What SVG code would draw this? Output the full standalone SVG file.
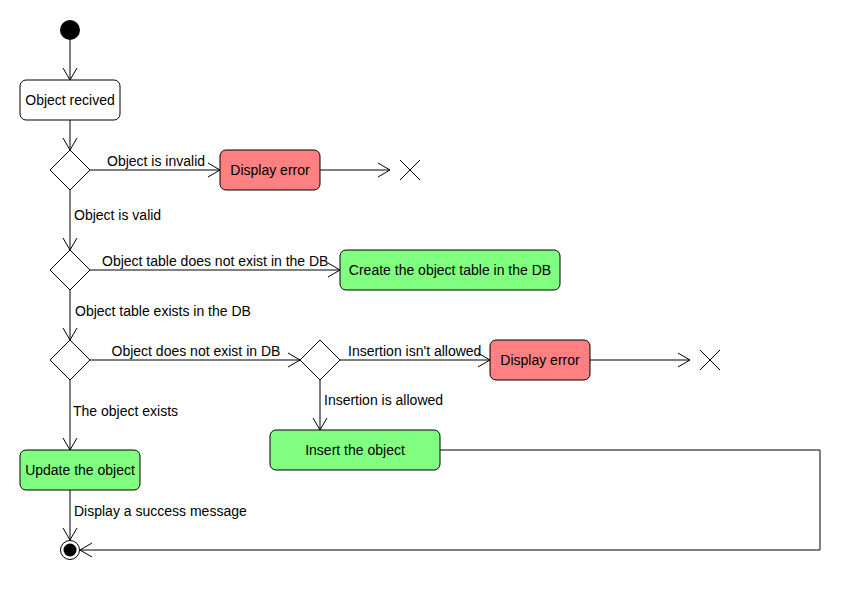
<svg xmlns="http://www.w3.org/2000/svg" width="860" height="590" viewBox="0 0 860 590">
  <style>
    .bg { fill: #ffffff; }
    .act { stroke: #000000; stroke-width: 1; }
    .plain { fill: #ffffff; }
    .err { fill: #ff8080; }
    .ok { fill: #80ff80; }
    .dec { fill: #ffffff; stroke: #000000; stroke-width: 1; }
    .flow { fill: none; stroke: #000000; stroke-width: 1; }
    .stop { fill: none; stroke: #000000; stroke-width: 1; }
    text { font-family: "Liberation Sans", Arial, sans-serif; font-size: 14px; fill: #000000; }
    .c { text-anchor: middle; }
  </style>
  <defs>
    <marker id="open" markerWidth="16" markerHeight="16" refX="0" refY="0" viewBox="-14 -8 16 16" markerUnits="userSpaceOnUse" orient="auto">
      <path d="M-12,-7 L0,0 L-12,7" fill="none" stroke="#000000" stroke-width="1"/>
    </marker>
  </defs>

  <rect class="bg" x="0" y="0" width="860" height="590"/>

  <!-- control flows -->
  <g id="flows">
    <line class="flow" x1="70" y1="40" x2="70" y2="80" marker-end="url(#open)"/>
    <line class="flow" x1="70" y1="120" x2="70" y2="150" marker-end="url(#open)"/>
    <line class="flow" x1="90" y1="170" x2="220" y2="170" marker-end="url(#open)"/>
    <line class="flow" x1="320" y1="170" x2="390" y2="170" marker-end="url(#open)"/>
    <line class="flow" x1="70" y1="190" x2="70" y2="250" marker-end="url(#open)"/>
    <line class="flow" x1="90" y1="270" x2="340" y2="270" marker-end="url(#open)"/>
    <line class="flow" x1="70" y1="290" x2="70" y2="340" marker-end="url(#open)"/>
    <line class="flow" x1="90" y1="360" x2="300" y2="360" marker-end="url(#open)"/>
    <line class="flow" x1="340" y1="360" x2="490" y2="360" marker-end="url(#open)"/>
    <line class="flow" x1="590" y1="360" x2="690" y2="360" marker-end="url(#open)"/>
    <line class="flow" x1="320" y1="380" x2="320" y2="430" marker-end="url(#open)"/>
    <line class="flow" x1="70" y1="380" x2="70" y2="450" marker-end="url(#open)"/>
    <line class="flow" x1="70" y1="490" x2="70" y2="540" marker-end="url(#open)"/>
    <polyline class="flow" points="440,450 820,450 820,550 80,550" marker-end="url(#open)"/>

    <text x="107" y="165.5">Object is invalid</text>
    <text x="74" y="219.5">Object is valid</text>
    <text x="102" y="266">Object table does not exist in the DB</text>
    <text x="75" y="315.5">Object table exists in the DB</text>
    <text x="111.5" y="355.5">Object does not exist in DB</text>
    <text x="348" y="356">Insertion isn't allowed</text>
    <text x="324" y="405">Insertion is allowed</text>
    <text x="73" y="415.5">The object exists</text>
    <text x="74" y="515.5">Display a success message</text>
  </g>

  <g id="start">
    <circle cx="70" cy="30" r="10" fill="#000000"/>
  </g>

  <g id="object-received">
    <rect class="act plain" x="20" y="80" width="100" height="40" rx="6"/>
    <text class="c" x="70" y="105">Object recived</text>
  </g>

  <g id="check-valid">
    <polygon class="dec" points="70,150 90,170 70,190 50,170"/>
  </g>

  <g id="display-error-1">
    <rect class="act err" x="220" y="150" width="100" height="40" rx="6"/>
    <text class="c" x="270" y="175">Display error</text>
  </g>

  <g id="flow-final-1">
    <path class="stop" d="M400,160 L420,180 M420,160 L400,180"/>
  </g>

  <g id="check-table">
    <polygon class="dec" points="70,250 90,270 70,290 50,270"/>
  </g>

  <g id="create-table">
    <rect class="act ok" x="340" y="250" width="220" height="40" rx="6"/>
    <text class="c" x="450" y="275">Create the object table in the DB</text>
  </g>

  <g id="check-exists">
    <polygon class="dec" points="70,340 90,360 70,380 50,360"/>
  </g>

  <g id="check-allowed">
    <polygon class="dec" points="320,340 340,360 320,380 300,360"/>
  </g>

  <g id="display-error-2">
    <rect class="act err" x="490" y="340" width="100" height="40" rx="6"/>
    <text class="c" x="540" y="365">Display error</text>
  </g>

  <g id="flow-final-2">
    <path class="stop" d="M700,350 L720,370 M720,350 L700,370"/>
  </g>

  <g id="insert-object">
    <rect class="act ok" x="270" y="430" width="170" height="40" rx="6"/>
    <text class="c" x="355" y="455">Insert the object</text>
  </g>

  <g id="update-object">
    <rect class="act ok" x="20" y="450" width="120" height="40" rx="6"/>
    <text class="c" x="80" y="475">Update the object</text>
  </g>

  <g id="end">
    <circle cx="70" cy="550" r="9.5" fill="#ffffff" stroke="#000000" stroke-width="1"/>
    <circle cx="70" cy="550" r="6.5" fill="#000000"/>
  </g>
</svg>
